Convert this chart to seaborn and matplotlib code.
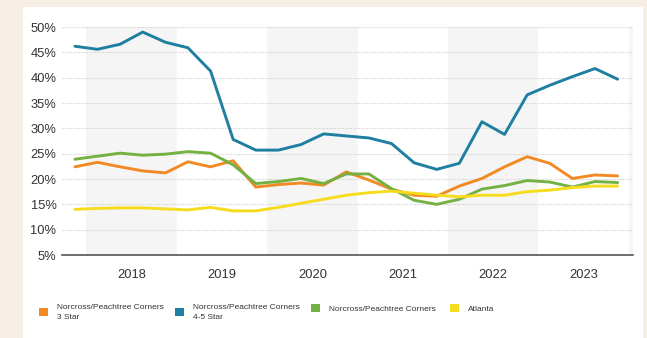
import matplotlib
matplotlib.use("Agg")
import matplotlib.pyplot as plt
from matplotlib.patches import Patch
from matplotlib.ticker import FixedLocator
import seaborn as sns
import pandas as pd

quarters = ["2017Q4",
            "2018Q1", "2018Q2", "2018Q3", "2018Q4",
            "2019Q1", "2019Q2", "2019Q3", "2019Q4",
            "2020Q1", "2020Q2", "2020Q3", "2020Q4",
            "2021Q1", "2021Q2", "2021Q3", "2021Q4",
            "2022Q1", "2022Q2", "2022Q3", "2022Q4",
            "2023Q1", "2023Q2", "2023Q3", "2023Q4"]
years = ["2018", "2019", "2020", "2021", "2022", "2023"]

star3 = [22.4, 23.3, 22.4, 21.6, 21.2, 23.4, 22.4, 23.6, 18.4, 18.9, 19.2, 18.8, 21.4,
         19.8, 18.0, 16.8, 16.6, 18.6, 20.1, 22.4, 24.4, 23.1, 20.1, 20.8, 20.6]
star45 = [46.2, 45.6, 46.6, 49.0, 47.0, 45.9, 41.3, 27.8, 25.7, 25.7, 26.8, 28.9, 28.5,
          28.1, 27.0, 23.2, 21.9, 23.1, 31.3, 28.8, 36.6, 38.5, 40.2, 41.8, 39.7]
norcross = [23.9, 24.5, 25.1, 24.7, 24.9, 25.4, 25.1, 22.8, 19.1, 19.5, 20.1, 19.1, 21.0,
            21.0, 18.1, 15.8, 15.0, 16.0, 18.0, 18.7, 19.7, 19.4, 18.4, 19.5, 19.3]
atlanta = [14.0, 14.2, 14.3, 14.3, 14.1, 13.9, 14.4, 13.7, 13.7, 14.4, 15.2, 16.0, 16.8,
           17.3, 17.6, 17.2, 16.8, 16.5, 16.8, 16.8, 17.5, 17.8, 18.3, 18.6, 18.6]

labels = ["Norcross/Peachtree Corners\n3 Star",
          "Norcross/Peachtree Corners\n4-5 Star",
          "Norcross/Peachtree Corners",
          "Atlanta"]
series = [star3, star45, norcross, atlanta]
colors = ["#f18a24", "#1f7fa1", "#74b143", "#f5dc1d"]

qindex = {q: i for i, q in enumerate(quarters)}
frames = []
for lab, vals in zip(labels, series):
    frames.append(pd.DataFrame({"quarter": quarters, "value": vals, "series": lab}))
df = pd.concat(frames, ignore_index=True)
df["t"] = df["quarter"].map(qindex)

sns.set_style("white")
plt.rcParams["font.family"] = ["Liberation Sans", "DejaVu Sans"]

fig = plt.figure(figsize=(6.47, 3.38), dpi=100)
fig.patch.set_facecolor("#f7efe5")
# white card
fig.add_artist(plt.Rectangle((23 / 647, 0), (643 - 23) / 647, 1 - 7 / 338,
                             transform=fig.transFigure, facecolor="white",
                             edgecolor="none", zorder=0))

ax = fig.add_axes([62 / 647, 1 - 255 / 338, (633 - 62) / 647, (255 - 27) / 338])
ax.set_facecolor("none")

xmin, xmax = -0.57, 24.68
# alternating year bands (2018, 2020, 2022, 2024)
for start in [0.5, 8.5, 16.5, 24.5]:
    ax.axvspan(start, min(start + 4, xmax), color="#f5f5f5", zorder=0, lw=0)

for yv in range(10, 55, 5):
    ax.axhline(yv, color="#d2d2d2", lw=0.8, ls=(0, (1.2, 1.2)), zorder=1)

sns.lineplot(data=df, x="t", y="value", hue="series", hue_order=labels,
             palette=colors, linewidth=2.1, ax=ax, legend=False, zorder=3)

ax.set_xlim(xmin, xmax)
ax.set_ylim(5, 50.0)
ax.set_yticks(list(range(5, 55, 5)))
ax.set_yticklabels([f"{v}%" for v in range(5, 55, 5)], fontsize=9.3, color="#333333")
ax.tick_params(axis="y", length=0, pad=4)

major = [0.5 + 4 * i for i in range(7)]
minor = [-0.5 + i for i in range(26) if (-0.5 + i) not in major]
ax.xaxis.set_major_locator(FixedLocator(major))
ax.xaxis.set_minor_locator(FixedLocator(minor))
ax.set_xticklabels([])
ax.tick_params(axis="x", which="major", direction="inout", length=10, width=1.1,
               color="#555555")
ax.tick_params(axis="x", which="minor", direction="in", length=5, width=0.9,
               color="#555555")
for i, yr in enumerate(years):
    ax.text(2.5 + 4 * i, -0.06, yr, transform=ax.get_xaxis_transform(),
            ha="center", va="top", fontsize=9.3, color="#333333")

ax.set_xlabel("")
ax.set_ylabel("")
for s in ["left", "right", "top"]:
    ax.spines[s].set_visible(False)
ax.spines["bottom"].set_color("#555555")
ax.spines["bottom"].set_linewidth(1.2)
ax.spines["bottom"].set_zorder(4)

# legend entries
leg_x = [39, 175, 311, 450]
for lab, col, lx in zip(labels, colors, leg_x):
    lg = fig.legend(handles=[Patch(facecolor=col, edgecolor="none")], labels=[lab],
                    loc="upper left", bbox_to_anchor=(lx / 647, 1 - 304 / 338),
                    frameon=False, handlelength=1.05, handleheight=1.05,
                    handletextpad=1.1, borderpad=0, borderaxespad=0,
                    labelspacing=0.2,
                    prop={"family": ["Liberation Sans"], "size": 6.0})
    for t in lg.get_texts():
        t.set_color("#333333")
        t.set_linespacing(1.55)

fig.savefig("out.png", dpi=100, facecolor=fig.get_facecolor())
